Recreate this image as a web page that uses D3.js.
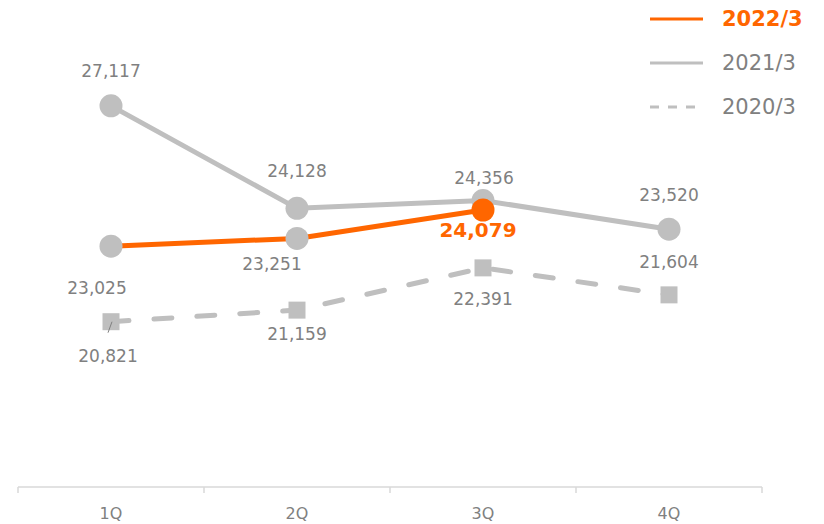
<!DOCTYPE html>
<html><head><meta charset="utf-8">
<script src="https://cdn.jsdelivr.net/npm/d3@7"></script>
<style>body{margin:0;background:#fff}svg{display:block}</style>
</head><body><svg id="c" width="824" height="524"></svg>
<script>
const categories = ["1Q","2Q","3Q","4Q"];
const series2022 = [23025, 23251, 24079, null];
const series2021 = [27117, 24128, 24356, 23520];
const series2020 = [20821, 21159, 22391, 21604];
const seriesNames = ["2022/3","2021/3","2020/3"];

const ORANGE = "#ff6600", GRAY = "#bfbfbf", TXT = "#808080", AXIS = "#d9d9d9";
const FONT = "DejaVu Sans, Verdana, sans-serif";
const fmt = d3.format(",");

const svg = d3.select("#c");
const x = d3.scaleBand().domain(categories).range([18, 762]).padding(0);
const cx = c => x(c) + x.bandwidth() / 2;
const y = d3.scaleLinear().domain([16000, 30000]).range([487, 7]);

// axis
const ax = svg.append("g").attr("transform", "translate(0,487)");
ax.call(d3.axisBottom(x).tickSize(0).tickPadding(0))
  .call(g => g.select(".domain").remove());
ax.selectAll(".tick text").attr("y", 32).attr("dy", 0)
  .attr("fill", TXT).style("font-family", FONT).style("font-size", "16px");
ax.append("line").attr("x1", 18).attr("x2", 762).attr("stroke", AXIS).attr("stroke-width", 1.5);
const bounds = categories.map(c => x(c)).concat([x.range()[1]]);
ax.selectAll(".bt").data(bounds).enter().append("line")
  .attr("x1", d => d).attr("x2", d => d).attr("y1", 0).attr("y2", 6)
  .attr("stroke", AXIS).attr("stroke-width", 1.5);

const pts = arr => arr.map((v, i) => v == null ? null : [cx(categories[i]), y(v), v]).filter(d => d);
const line = d3.line().x(d => d[0]).y(d => d[1]);

// 2020 dashed
const p20 = pts(series2020);
svg.append("path").attr("d", line(p20)).attr("fill", "none").attr("stroke", GRAY)
  .attr("stroke-width", 5).attr("stroke-dasharray", "18,25").attr("stroke-linecap", "round");
svg.selectAll(".sq").data(p20).enter().append("rect")
  .attr("x", d => d[0] - 8.5).attr("y", d => d[1] - 8.5).attr("width", 17).attr("height", 17).attr("fill", GRAY);

// 2021
const p21 = pts(series2021);
svg.append("path").attr("d", line(p21)).attr("fill", "none").attr("stroke", GRAY).attr("stroke-width", 5);
svg.selectAll(".c21").data(p21).enter().append("circle")
  .attr("cx", d => d[0]).attr("cy", d => d[1]).attr("r", 11.5).attr("fill", GRAY);

// 2022
const p22 = pts(series2022);
svg.append("path").attr("d", line(p22)).attr("fill", "none").attr("stroke", ORANGE).attr("stroke-width", 5);
svg.selectAll(".c22").data(p22).enter().append("circle")
  .attr("cx", d => d[0]).attr("cy", d => d[1]).attr("r", 11.5)
  .attr("fill", (d, i) => i === p22.length - 1 ? ORANGE : GRAY);

// labels: [dx, dy] offsets from point
const off21 = [[0,-29],[0,-31],[1,-17],[0,-28]];
const off22 = [[-14,48],[-25,32],[-5,27]];
const off20 = [[-3,40],[0,30],[0,37],[0,-27]];

function labels(p, off, color, bold) {
  svg.selectAll(null).data(p).enter().append("text")
    .attr("x", (d, i) => d[0] + off[i][0]).attr("y", (d, i) => d[1] + off[i][1])
    .attr("text-anchor", "middle").attr("fill", (d, i) => bold && i === p.length - 1 ? ORANGE : color)
    .style("font-family", FONT)
    .style("font-size", (d, i) => bold && i === p.length - 1 ? "20px" : "17px")
    .style("font-weight", (d, i) => bold && i === p.length - 1 ? "bold" : "normal")
    .text(d => fmt(d[2]));
}
labels(p21, off21, TXT, false);
labels(p22, off22, TXT, true);
labels(p20, off20, TXT, false);
// leader line for 1Q 2020
svg.append("line").attr("x1", p20[0][0] + 1).attr("y1", p20[0][1])
  .attr("x2", p20[0][0] - 3).attr("y2", p20[0][1] + 11).attr("stroke", TXT).attr("stroke-width", 1);

// legend
const lg = svg.append("g");
const legStyles = [
  {c: ORANGE, w: 3, dash: null, bold: true, tc: ORANGE},
  {c: GRAY, w: 3, dash: null, bold: false, tc: TXT},
  {c: GRAY, w: 3, dash: "9,9", bold: false, tc: TXT}
];
seriesNames.forEach((n, i) => {
  const s = legStyles[i], yy = 19 + i * 44;
  lg.append("line").attr("x1", 650).attr("x2", 703).attr("y1", yy).attr("y2", yy)
    .attr("stroke", s.c).attr("stroke-width", s.w).attr("stroke-dasharray", s.dash);
  lg.append("text").attr("x", 722).attr("y", yy + 7).attr("fill", s.tc)
    .style("font-family", FONT).style("font-size", "21px")
    .style("font-weight", s.bold ? "bold" : "normal").text(n);
});
</script></body></html>
